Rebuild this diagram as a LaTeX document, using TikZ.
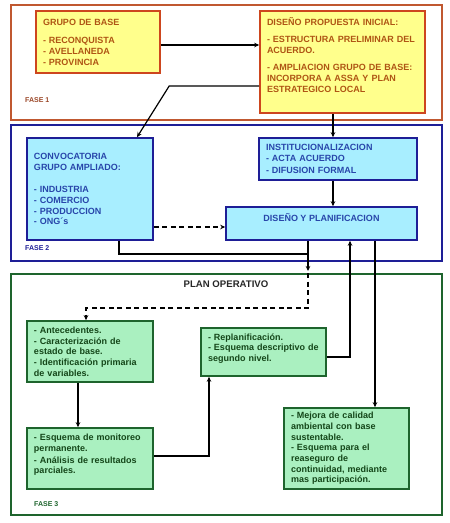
\documentclass[tikz,border=0pt]{standalone}
\usepackage{fontspec}
\setmainfont{Liberation Sans}
\usepackage{tikz}
\usetikzlibrary{arrows.meta}

\definecolor{brownframe}{RGB}{192,88,48}
\definecolor{ybord}{RGB}{205,70,30}
\definecolor{yfill}{RGB}{255,255,140}
\definecolor{ytext}{RGB}{175,85,20}
\definecolor{blueframe}{RGB}{30,30,150}
\definecolor{cfill}{RGB}{168,238,255}
\definecolor{ctext}{RGB}{40,70,170}
\definecolor{greenframe}{RGB}{30,100,45}
\definecolor{gfill}{RGB}{170,240,192}
\definecolor{gtext}{RGB}{20,70,25}

\begin{document}
\begin{tikzpicture}[x=1pt, y=-1pt,
    boxtext/.style={font=\fontsize{9}{10.7}\selectfont\bfseries, align=left, inner xsep=7pt, inner ysep=0pt, line width=1.6pt},
    ybox/.style={boxtext, draw=ybord, fill=yfill, text=ytext},
    cbox/.style={boxtext, draw=blueframe, fill=cfill, text=ctext},
    gbox/.style={boxtext, draw=greenframe, fill=gfill, text=gtext},
    faselabel/.style={font=\fontsize{7}{8}\selectfont\bfseries, anchor=west, inner sep=0pt},
    link/.style={line width=1.2pt, -{Stealth[length=5pt, width=4.5pt]}},
    dashlink/.style={link, dash pattern=on 5pt off 3.5pt},
    wire/.style={line width=1.2pt}
]
    \useasboundingbox (0,0) rectangle (450,523);

    % The three phases
    \draw[brownframe, line width=2pt] (11,5) rectangle (442,120);
    \draw[blueframe, line width=2pt] (11,125) rectangle (442,261);
    \draw[greenframe, line width=2pt] (11,274) rectangle (442,515);
    \node[faselabel, text=brownframe!80!black] (fase1) at (25,100) {FASE 1};
    \node[faselabel, text=blueframe] (fase2) at (25,248) {FASE 2};
    \node[faselabel, text=greenframe] (fase3) at (34,504) {FASE 3};
    \node[font=\fontsize{9.6}{11}\selectfont\bfseries, text=black!85] (plan) at (226,284) {PLAN OPERATIVO};

    % Fase 1
    \node[ybox, minimum width=124, minimum height=62, text width=110] (grupo) at (98,42)
        {GRUPO DE BASE\\[8pt] - RECONQUISTA\\ - AVELLANEDA\\ - PROVINCIA};
    \node[ybox, minimum width=165, minimum height=102, text width=151] (propuesta) at (342.5,62)
        {DISEÑO PROPUESTA INICIAL:\\[6pt] - ESTRUCTURA PRELIMINAR DEL\\ ACUERDO.\\[7pt] - AMPLIACION GRUPO DE BASE:\\ INCORPORA A ASSA Y PLAN\\ ESTRATEGICO LOCAL\rule[-14pt]{0pt}{0pt}};

    % Fase 2
    \node[cbox, minimum width=126, minimum height=102, text width=112] (convoca) at (90,189)
        {CONVOCATORIA\\ GRUPO AMPLIADO:\\[12pt] - INDUSTRIA\\ - COMERCIO\\ - PRODUCCION\\ - ONG´s};
    \node[cbox, minimum width=158, minimum height=42, text width=144] (instit) at (338,159)
        {INSTITUCIONALIZACION\\ - ACTA ACUERDO\\[1.5pt] - DIFUSION FORMAL};
    \node[cbox, align=center, minimum width=191, minimum height=33] (diseno) at (321.5,223.5)
        {DISEÑO Y PLANIFICACION\rule[-13pt]{0pt}{0pt}};

    % Fase 3
    \node[gbox, minimum width=126, minimum height=61, text width=112] (antec) at (90,351.5)
        {- Antecedentes.\\ - Caracterización de\\ estado de base.\\ - Identificación primaria\\ de variables.};
    \node[gbox, minimum width=125, minimum height=48, text width=111] (replan) at (263.5,352)
        {- Replanificación.\\ - Esquema descriptivo de\\ segundo nivel.\rule[-9pt]{0pt}{0pt}};
    \node[gbox, minimum width=126, minimum height=61, text width=112] (monit) at (90,458.5)
        {- Esquema de monitoreo\\ permanente.\\[1pt] - Análisis de resultados\\ parciales.\rule[-9pt]{0pt}{0pt}};
    \node[gbox, minimum width=125, minimum height=81, text width=111] (mejora) at (346.5,448.5)
        {- Mejora de calidad\\ ambiental con base\\ sustentable.\\ - Esquema para el\\ reaseguro de\\ continuidad, mediante\\ mas participación.};

    % x positions of the vertical runs
    \coordinate (xa) at (333,0);
    \coordinate (xb) at (308,0);
    \coordinate (xc) at (350,0);
    \coordinate (xd) at (375,0);

    % Connectors
    \draw[link] ([yshift=-3pt]grupo.east) -- ([yshift=-3pt]grupo.east -| propuesta.west);
    \draw[link] ([yshift=-24pt]propuesta.west) -- ++(-90,0) -- ([xshift=47pt]convoca.north);
    \draw[link] (propuesta.south -| xa) -- (instit.north -| xa);
    \draw[link] (instit.south -| xa) -- (diseno.north -| xa);
    \draw[dashlink] ([yshift=-3.5pt]diseno.west -| convoca.east) -- ([yshift=-3.5pt]diseno.west);
    \draw[wire] ([xshift=29pt]convoca.south) |- (xb |- 0,254);
    \draw[link] (diseno.south -| xb) -- (xb |- 0,271);
    \draw[dashlink] (xb |- 0,273) -- (xb |- 0,308) -| ([xshift=-4pt]antec.north);
    \draw[link] ([yshift=-5pt]replan.east) -| (diseno.south -| xc);
    \draw[link] (diseno.south -| xd) -- (mejora.north -| xd);
    \draw[link] ([xshift=-12pt]antec.south) -- ([xshift=-12pt]monit.north);
    \draw[link] ([yshift=2.5pt]monit.east) -| ([xshift=-54.5pt]replan.south);
\end{tikzpicture}
\end{document}
